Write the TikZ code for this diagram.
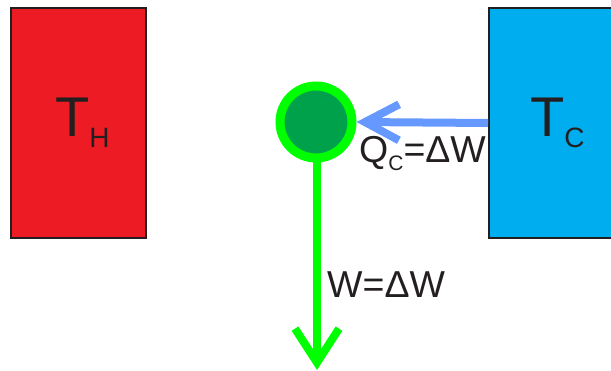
\documentclass[tikz,border=0pt]{standalone}
\usepackage{fontspec}
\setmainfont{Liberation Sans}
\usetikzlibrary{arrows.meta}
\definecolor{hotred}{RGB}{237,28,36}
\definecolor{coldblue}{RGB}{0,173,239}
\definecolor{ringgreen}{RGB}{0,255,0}
\definecolor{fillgreen}{RGB}{0,161,75}
\definecolor{arrowblue}{RGB}{102,153,255}
\definecolor{inkgray}{RGB}{35,31,32}
\tikzset{
  reservoir/.style={draw=inkgray, line width=1.5pt, minimum width=135pt, minimum height=230pt, inner sep=0pt},
  bigT/.style={inner sep=0pt, text=inkgray, font=\fontsize{56}{56}\selectfont},
  lbl/.style={inner sep=0pt, text=inkgray, font=\fontsize{37.5}{37.5}\selectfont},
  chev/.style={-{Straight Barb[length=34pt,width=#1]}},
}
\newcommand{\subtxt}[1]{\raisebox{-11pt}{\fontsize{28}{28}\selectfont #1}}
\begin{document}
\begin{tikzpicture}[x=1pt,y=-1pt]
\useasboundingbox (0,0) rectangle (611,371);
\node[reservoir, fill=hotred] (hot) at (78.5,123) {};
\node[reservoir, fill=coldblue, anchor=west] (cold) at (488,123) {};
\node[bigT, anchor=base west] (th) at (55,137) {T\subtxt{H}};
\node[bigT, anchor=base west] (tc) at (530,137) {T\subtxt{C}};
\node[circle, draw=ringgreen, fill=fillgreen, line width=9pt, minimum size=72pt, inner sep=0pt] (eng) at (316,122) {};
\coordinate (wend) at (317,370);
\draw[line width=8pt, arrowblue, chev=36pt] (cold.west) -- (eng.east);
\draw[line width=8pt, ringgreen, chev=44pt] ([xshift=1pt]eng.south) -- (wend);
\node[lbl, anchor=base west] (q) at (359,163) {Q{\raisebox{-8pt}{\fontsize{21}{21}\selectfont C}}=ΔW};
\node[lbl, anchor=base west] (w) at (327,298) {W=ΔW};
\end{tikzpicture}
\end{document}
